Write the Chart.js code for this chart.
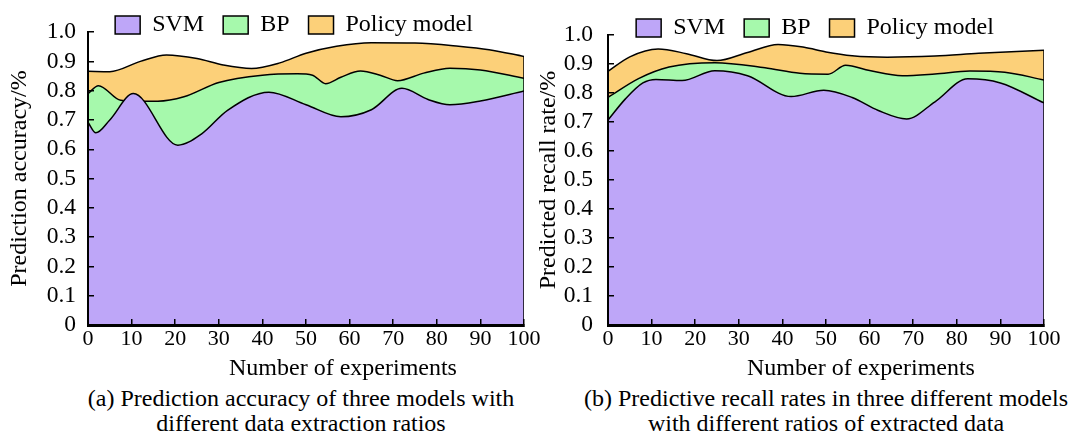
<!DOCTYPE html>
<html><head><meta charset="utf-8">
<script src="https://cdn.jsdelivr.net/npm/chart.js@4.4.0/dist/chart.umd.min.js"></script>
<style>
html,body{margin:0;padding:0;background:#fff;}
#wrap{position:relative;width:1073px;height:434px;overflow:hidden;font-family:"Liberation Serif","Times New Roman",serif;color:#000;background:#fff;}
canvas{position:absolute;top:0;}
.t{position:absolute;text-align:center;font-size:24px;line-height:25px;white-space:nowrap;}
</style></head><body>
<div id="wrap">
<canvas id="cA" width="548" height="365" style="left:0"></canvas>
<canvas id="cB" width="538" height="365" style="left:535px"></canvas>
<div class="t" style="left:193px;top:355px;width:300px">Number of experiments</div>
<div class="t" style="left:711px;top:355px;width:300px">Number of experiments</div>
<div class="t" style="left:21px;top:386px;width:560px">(a) Prediction accuracy of three models with<br>different data extraction ratios</div>
<div class="t" style="left:546px;top:386px;width:560px">(b) Predictive recall rates in three different models<br>with different ratios of extracted data</div>
</div>
<script>
// ---- tick labels ----
const xTickLabels = ['0','10','20','30','40','50','60','70','80','90','100'];
const yTickLabels = ['0','0.1','0.2','0.3','0.4','0.5','0.6','0.7','0.8','0.9','1.0'];
const seriesNames = ['SVM','BP','Policy model'];

// ---- (a) prediction accuracy ----
const accSvmX = [0, 1.8, 5, 10.4, 20.6, 26, 32, 41.5, 50, 58, 65, 72, 78, 83, 90, 100];
const accSvmY = [0.692, 0.656, 0.70, 0.79, 0.614, 0.652, 0.733, 0.795, 0.752, 0.711, 0.735, 0.808, 0.77, 0.752, 0.765, 0.799];
const accBpX  = [0, 2.4, 7.5, 12, 16, 22, 30, 40, 48, 51.5, 54.5, 58, 62.5, 67, 71, 77, 83, 90, 100];
const accBpY  = [0.79, 0.817, 0.767, 0.764, 0.764, 0.779, 0.828, 0.853, 0.858, 0.853, 0.824, 0.846, 0.867, 0.853, 0.834, 0.86, 0.877, 0.871, 0.842];
const accPolX = [0, 5, 12, 18, 25, 31, 37.5, 44, 50, 57, 65, 75, 85, 92, 100];
const accPolY = [0.866, 0.865, 0.9, 0.922, 0.91, 0.888, 0.876, 0.895, 0.928, 0.952, 0.964, 0.963, 0.952, 0.94, 0.917];

// ---- (b) predicted recall rate ----
const recSvmX = [0, 4, 8, 11, 17, 24.5, 32, 42, 49.5, 56, 62, 68.5, 75, 82.5, 90, 100];
const recSvmY = [0.707, 0.78, 0.835, 0.847, 0.843, 0.877, 0.86, 0.788, 0.81, 0.785, 0.74, 0.711, 0.77, 0.849, 0.835, 0.766];
const recBpX  = [0, 7, 14, 24.5, 36, 44, 50.5, 54.5, 60, 67.5, 75, 83, 91, 100];
const recBpY  = [0.785, 0.85, 0.89, 0.905, 0.887, 0.868, 0.865, 0.896, 0.878, 0.86, 0.866, 0.876, 0.872, 0.845];
const recPolX = [0, 5, 11.5, 18, 25, 32, 39, 45, 50, 56, 64, 75, 85, 100];
const recPolY = [0.875, 0.925, 0.952, 0.936, 0.912, 0.94, 0.968, 0.958, 0.942, 0.929, 0.924, 0.928, 0.937, 0.948];

const fillColors = ['#BEA6F8', '#A6F9AC', '#FCD079'];
const FONT = '"Liberation Serif","Times New Roman",serif';

const toPts = (xs, ys) => xs.map((x, i) => ({x: x, y: ys[i]}));

const legendPlace = {
  id: 'legendPlace',
  beforeLayout(chart, args, o) {
    const lg = chart.legend;
    if (lg && !lg.__patched) {
      const f = lg.fit;
      lg.fit = function () { f.call(this); this.height = o.height; };
      lg.__patched = true;
    }
  },
  afterLayout(chart, args, o) {
    const lg = chart.legend;
    if (!lg) return;
    lg.left += o.dx; lg.right += o.dx; lg.top += o.dy; lg.bottom += o.dy + 40;
  }
};

function makeChart(id, series, yTitle, cfg) {
  const datasets = series.map((s, i) => ({
    label: seriesNames[i],
    data: toPts(s[0], s[1]),
    backgroundColor: fillColors[i],
    borderColor: '#000',
    borderWidth: 1.5,
    fill: 'origin',
    pointRadius: 0,
    cubicInterpolationMode: 'monotone'
  }));
  const top = series[2];
  const lastX = top[0][top[0].length - 1];
  const lastY = top[1][top[1].length - 1];
  datasets.push({
    label: 'edge',
    data: [{x: lastX, y: 0}, {x: lastX, y: lastY}],
    borderColor: '#000', borderWidth: 1.5, fill: false, pointRadius: 0, order: -1
  });
  return new Chart(document.getElementById(id), {
    type: 'line',
    data: {datasets: datasets},
    plugins: [legendPlace],
    options: {
      responsive: false,
      animation: false,
      layout: {autoPadding: false, padding: {left: 0, right: cfg.padRight, top: 0, bottom: 0}},
      scales: {
        x: {
          type: 'linear', min: 0, max: 100,
          afterFit(s) { s.height = 40; },
          ticks: {stepSize: 10, padding: 7, color: '#000', maxRotation: 0, autoSkip: false,
                  font: {family: FONT, size: 22}, callback: (v, i) => xTickLabels[i]},
          grid: {drawOnChartArea: false, drawTicks: true, tickLength: -6, color: '#000', lineWidth: 1.5, z: 1},
          border: {display: true, color: '#000', width: 3, z: 1}
        },
        y: {
          min: 0, max: 1,
          afterFit(s) { s.width = cfg.yWidth; },
          ticks: {stepSize: 0.1, padding: cfg.yTickPad, color: '#000', autoSkip: false,
                  font: {family: FONT, size: 23.5}, callback: (v, i) => yTickLabels[i]},
          grid: {drawOnChartArea: false, drawTicks: true, tickLength: -6, color: '#000', lineWidth: 1.5, z: 1},
          border: {display: true, color: '#000', width: 2, z: 1},
          title: {display: true, text: yTitle, color: '#000',
                  font: {family: FONT, size: 24, lineHeight: 1}, padding: {top: cfg.yTitlePad, bottom: 0}}
        }
      },
      plugins: {
        legend: {
          position: 'top', fullSize: false,
          labels: {boxWidth: 25, boxHeight: 18, padding: 19, color: '#000',
                   font: {family: FONT, size: 24},
                   filter: (it) => it.datasetIndex < 3}
        },
        tooltip: {enabled: false},
        legendPlace: {height: 31, dx: cfg.dx, dy: -7}
      }
    }
  });
}

makeChart('cA', [[accSvmX, accSvmY], [accBpX, accBpY], [accPolX, accPolY]],
  'Prediction accuracy/%', {padRight: 24, yWidth: 88, yTickPad: 18, yTitlePad: 8, dx: -12});
makeChart('cB', [[recSvmX, recSvmY], [recBpX, recBpY], [recPolX, recPolY]],
  'Predicted recall rate/%', {padRight: 29, yWidth: 73, yTickPad: 21, yTitlePad: 2, dx: -11});
</script>
</body></html>
